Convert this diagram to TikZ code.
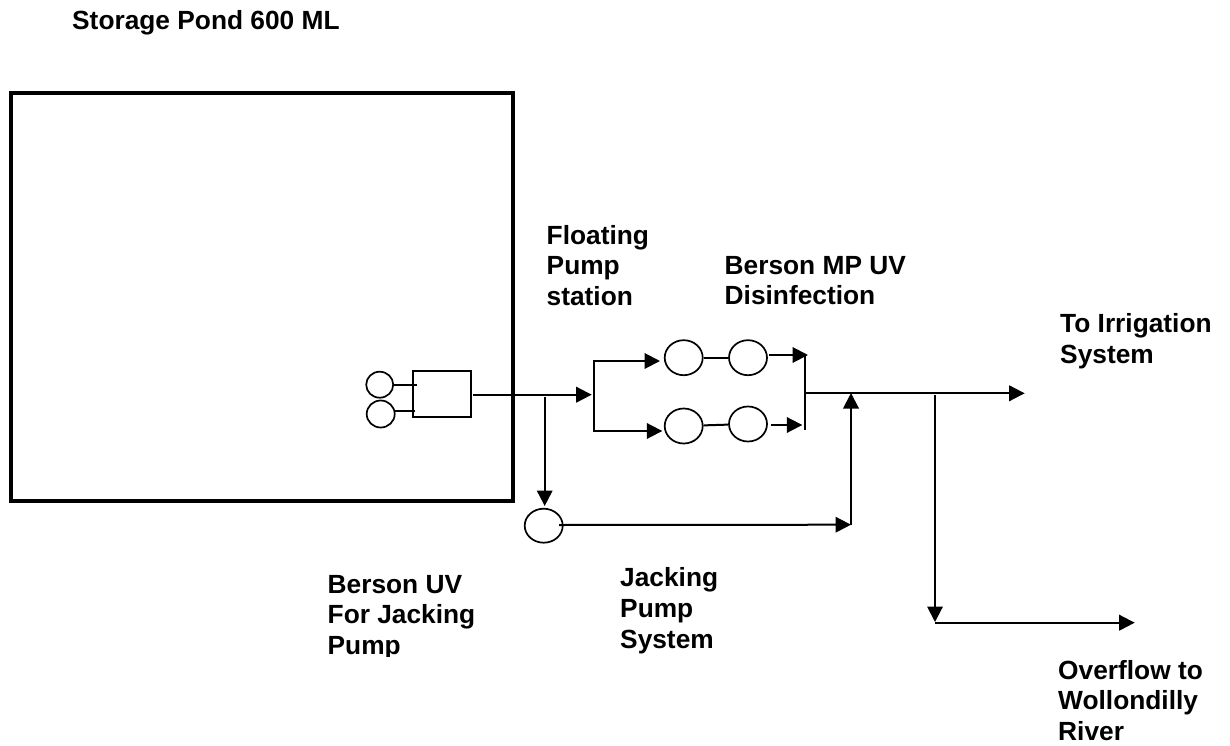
\documentclass[tikz,border=0pt]{standalone}
\usepackage{fontspec}
\setmainfont{Liberation Sans}
\usetikzlibrary{arrows.meta,shapes.geometric}
\tikzset{
  conn/.style={line width=2pt,black},
  arr/.style={conn,-{Triangle[length=15.5pt,width=15.5pt]}},
  pump/.style={draw,ellipse,line width=1.7pt,inner sep=0pt,minimum width=38pt,minimum height=35pt},
  smallpump/.style={draw,ellipse,line width=1.7pt,inner sep=0pt,minimum width=27pt,minimum height=26pt},
  lab/.style={anchor=north west,inner sep=0pt,align=left,font=\fontsize{26.3}{30.6}\selectfont\bfseries},
  tankbox/.style={draw,line width=1.9pt,inner sep=0pt}
}
\begin{document}
\begin{tikzpicture}[x=1pt,y=-1pt]
\useasboundingbox (0,0) rectangle (1230,746);
\fill[white] (0,0) rectangle (1230,746);
% pond
\node[draw,line width=4pt,inner sep=0pt,minimum width=502pt,minimum height=407.7pt] (pond) at (262,296.9) {};
% pumps in pond
\node[smallpump] (fp1) at (379.7,384.7) {};
\node[smallpump,minimum width=28pt,minimum height=27pt] (fp2) at (380.7,414) {};
\node[tankbox,minimum width=58.5pt,minimum height=46.5pt] (station) at (441.8,393.8) {};
% UV units
\node[pump] (t1) at (683.7,357.7) {};
\node[pump] (t2) at (748,357.7) {};
\node[pump] (b1) at (683.7,426) {};
\node[pump] (b2) at (748,424) {};
\node[pump,minimum height=34pt] (jack) at (543.7,525.7) {};
% junction points
\coordinate (s1) at (416.7,384.7);
\coordinate (s2) at (414.5,411);
\coordinate (s2a) at (394.5,411);
\coordinate (out) at (473,394.7);
\coordinate (split) at (591.7,394.7);
\coordinate (jt) at (544.7,397);
\coordinate (jb) at (544.7,506);
\coordinate (jr) at (559,525);
\coordinate (mc) at (851,524.7);
\coordinate (mt) at (851,393);
\coordinate (st) at (594.3,360);
\coordinate (sb) at (594.3,430.7);
\coordinate (sta) at (593.4,361);
\coordinate (stb) at (660,361);
\coordinate (sba) at (593.4,431);
\coordinate (sbb) at (662.3,431);
\coordinate (ta) at (769.3,355);
\coordinate (tb) at (808,355);
\coordinate (ba) at (770.7,425);
\coordinate (bb) at (802.3,425);
\coordinate (mat) at (804.7,355);
\coordinate (mab) at (804.7,430);
\coordinate (ma) at (805,393.3);
\coordinate (mz) at (1024.7,393.3);
\coordinate (ot) at (935,395);
\coordinate (ob) at (935,622);
\coordinate (oa) at (935,622.7);
\coordinate (oz) at (1134.7,622.7);
% connectors
\draw[conn] (fp1) -- (s1);
\draw[conn] (s2a) -- (s2);
\draw[arr] (out) -- (split);
\draw[arr] (jt) -- (jb);
\draw[arr] (jr) -- (mc);
\draw[arr] (mc) -- (mt);
\draw[conn] (st) -- (sb);
\draw[arr] (sta) -- (stb);
\draw[arr] (sba) -- (sbb);
\draw[conn] (t1) -- (t2);
\draw[conn] (b1) -- (b2);
\draw[arr] (ta) -- (tb);
\draw[arr] (ba) -- (bb);
\draw[conn] (mat) -- (mab);
\draw[arr] (ma) -- (mz);
\draw[arr] (ot) -- (ob);
\draw[arr] (oa) -- (oz);
% labels
\node[lab] (l1) at (72,10) {Storage Pond 600 ML};
\node[lab] (l2) at (546.5,225) {Floating\\Pump\\station};
\node[lab] (l3) at (724.5,256) {Berson MP UV\\Disinfection};
\node[lab] (l4) at (1060,313.5) {To Irrigation\\System};
\begin{scope}
\clip (320,560) rectangle (500,656);
\node[lab] (l5) at (327.5,575) {Berson UV\\For Jacking\\Pump};
\end{scope}
\node[lab] (l6) at (620,567.7) {Jacking\\Pump\\System};
\node[lab] (l7) at (1058,660) {Overflow to\\Wollondilly\\River};
\end{tikzpicture}
\end{document}
